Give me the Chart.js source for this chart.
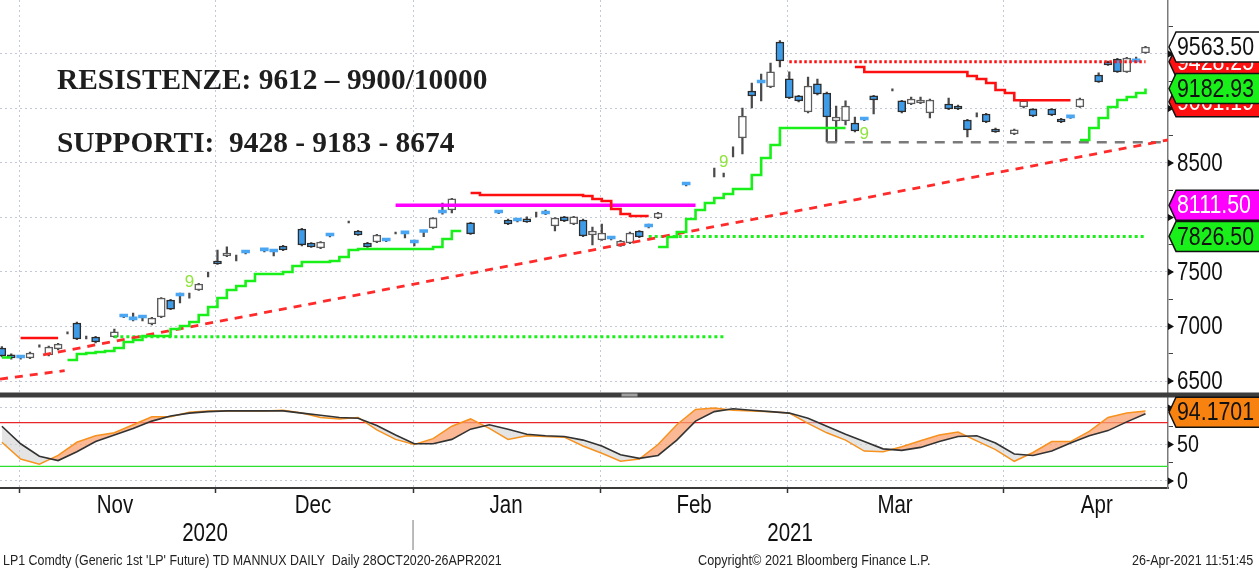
<!DOCTYPE html>
<html>
<head>
<meta charset="utf-8">
<script src="https://cdn.jsdelivr.net/npm/chart.js@4.4.1/dist/chart.umd.min.js"></script>
<style>
  html, body { margin: 0; padding: 0; background: #fff; }
  #wrap { position: relative; width: 1259px; height: 569px; overflow: hidden; }
  canvas { display: block; }
  .note { position: absolute; left: 57px; font: bold 29.4px 'Liberation Serif', 'Times New Roman', serif;
          line-height: 29px; color: #1e1e1e; white-space: pre; }
  .foot { position: absolute; top: 552px; font: 14px 'Liberation Sans', Arial, sans-serif;
          line-height: 16px; color: #222; white-space: pre; }
</style>
</head>
<body>
<div id="wrap">
  <canvas id="chart" width="1259" height="569"></canvas>
  <div class="note" style="top:65px">RESISTENZE: 9612 – 9900/10000</div>
  <div class="note" style="top:128px">SUPPORTI:  9428 - 9183 - 8674</div>
  <div class="foot" data-w="499" style="left:3px;transform-origin:0 50%">LP1 Comdty (Generic 1st 'LP' Future) TD MANNUX DAILY  Daily 28OCT2020-26APR2021</div>
  <div class="foot" data-w="233" style="left:698px;transform-origin:0 50%">Copyright© 2021 Bloomberg Finance L.P.</div>
  <div class="foot" data-w="121" style="right:6px;transform-origin:100% 50%">26-Apr-2021 11:51:45</div>
</div>
<script>
// ─── Axis layout (trading-day index) ──────────────────────────────
const X_MIN = -0.2, X_MAX = 124.4;
const monthEdges = [1.83, 22.84, 43.86, 63.91, 83.86, 106.9];
const monthMids = [12.07, 33.19, 53.78, 73.84, 95.28, 116.8];
const monthLabels = ['Nov', 'Dec', 'Jan', 'Feb', 'Mar', 'Apr'];
const yearMids = [21.67, 84.08];
const yearLabels = ['2020', '2021'];
const yearSplit = 43.86;

// ─── Daily candles (null = no bar that day) ───────────────────────
const open = [
  6803, 6739, 6711, 6711, null, 6739, 6794, null, 7032, null,
  6904, null, 6904, 7087, 7060, 7078, 7023, 7087, 7243, 7280,
  null, 7335, null, 7601, 7647, null, 7674, null, 7693, 7683,
  7738, null, 7894, 7766, 7720, 7830, null, null, 7876, 7766,
  7775, 7784, null, 7849, 7766, 7862, 7904, 8041, 8069, null,
  7950, null, null, 8041, 7977, 7968, 7986, null, 8032, 7922,
  8005, 7940, 7977, 7839, 7794, 7803, 7739, 7766, 7876, 7913,
  7995, null, null, 8298, null, null, null, null, null, 8729,
  9160, 9234, 9197, 9610, 9271, 9115, 8968, 9225, 9142, 8885,
  8885, 8867, 8894, 9115, null, null, 9069, 9041, 9050, 8959,
  null, 9041, 9023, 8894, null, 8949, 8812, null, 8766, 9014,
  8995, null, 8995, 8903, 8913, 9014, null, 9307, 9427, 9454,
  9335, 9427, 9509
];
const close = [
  6729, 6711, 6711, 6757, null, 6812, 6839, null, 6885, null,
  6858, null, 6950, 7087, 7060, 7078, 7078, 7261, 7160, 7280,
  null, 7390, null, 7573, 7674, null, 7674, null, 7693, 7683,
  7702, null, 7748, 7729, 7775, 7830, null, null, 7839, 7729,
  7839, 7784, null, 7849, 7766, 7862, 7995, 8041, 8170, null,
  7849, null, null, 8041, 7940, 7968, 7959, null, 8032, 7995,
  7968, 8005, 7830, 7876, 7858, 7803, 7784, 7858, 7821, 7913,
  8041, null, null, 8298, null, null, null, null, null, 8931,
  9114, 9234, 9335, 9436, 9096, 9069, 9206, 9133, 8922, 8922,
  9023, 8793, 8894, 9078, null, null, 8968, 9087, 9078, 9078,
  null, 8995, 8995, 8803, null, 8876, 8784, null, 8803, 9069,
  8931, null, 8940, 8876, 8913, 9087, null, 9243, 9399, 9335,
  9463, 9427, 9563.5
];
const high = [
  6815, 6750, 6720, 6765, 6832, 6820, 6845, 6950, 7040, 6913,
  6910, null, 6977, 7095, 7124, 7096, 7085, 7265, 7250, 7307,
  7307, 7395, 7500, 7702, 7730, 7656, 7685, null, 7711, 7690,
  7745, null, 7900, 7770, 7780, 7838, null, 7968, 7882, 7772,
  7845, 7790, 7867, 7858, 7793, 7880, 8000, 8133, 8175, null,
  7955, null, null, 8048, 7985, 7975, 8005, 8050, 8069, 8000,
  8010, 8010, 7985, 7913, 7940, 7810, 7790, 7865, 7880, 7940,
  8048, null, null, 8305, null, null, 8454, 8408, 8647, 9004,
  9234, 9316, 9417, 9622, 9335, 9120, 9289, 9270, 9150, 9023,
  9069, 8922, 8900, 9120, null, 9180, 9075, 9105, 9105, 9085,
  null, 9096, 9030, 8900, 8959, 8955, 8821, null, 8812, 9075,
  9000, null, 9000, 8910, 8918, 9095, null, 9326, 9435, 9460,
  9470, 9472, 9570
];
const low = [
  6720, 6700, 6700, 6705, 6810, 6730, 6785, 6931, 6880, 6885,
  6850, null, 6900, 7080, 7050, 7050, 7015, 7080, 7155, 7216,
  7260, 7330, 7454, 7570, 7640, 7601, 7665, null, 7685, 7647,
  7695, null, 7740, 7725, 7715, 7822, null, 7950, 7835, 7725,
  7770, 7778, 7849, 7812, 7738, 7825, 7900, 8030, 8041, null,
  7845, null, null, 8035, 7935, 7960, 7955, 8005, 8025, 7876,
  7962, 7935, 7825, 7748, 7790, 7795, 7735, 7760, 7815, 7905,
  7990, null, null, 8290, null, null, 8371, 8371, 8555, 8582,
  9004, 9069, 9190, 9381, 9090, 9060, 8960, 9125, 8693, 8693,
  8849, 8785, 8888, 8949, null, 9160, 8960, 9035, 9045, 8913,
  null, 8990, 8990, 8738, 8922, 8870, 8780, null, 8760, 9004,
  8925, null, 8935, 8870, 8908, 9010, null, 9240, 9395, 9330,
  9330, 9420, 9505
];

// ─── TD support / resistance steps ────────────────────────────────
const support = [
  6716, 6716, null, null, null, null, null, 6693, 6748, 6757,
  6766, 6775, 6803, 6858, 6876, 6913, 6913, 6913, 6977, 7005,
  7041, 7105, 7179, 7261, 7335, 7372, 7417, 7482, 7482, 7482,
  7500, 7555, 7592, 7592, 7592, 7601, 7638, 7702, 7711, 7711,
  7711, 7711, 7711, 7711, 7711, 7711, 7729, 7803, 7876, 7876,
  null, null, null, null, null, null, null, null, null, null,
  null, null, null, null, null, null, null, null, null, null,
  7729, 7821, 7867, 7986, 8069, 8133, 8179, 8216, 8261, 8261,
  8390, 8546, 8665, 8821, 8821, 8821, 8821, 8821, 8821, 8821,
  8821, null, null, null, null, null, null, null, null, null,
  null, null, null, null, null, null, null, null, null, null,
  null, null, null, null, null, 8711, 8821, 8913, 9014, 9078,
  9105, 9142, 9182.93
];
const resistance = [
  null, null, 6894, 6894, 6894, 6894, 6894, null, null, null,
  null, null, null, null, null, null, null, null, null, null,
  null, null, null, null, null, null, null, null, null, null,
  null, null, null, null, null, null, null, null, null, null,
  null, null, null, null, null, null, null, null, null, null,
  8225, 8206, 8206, 8206, 8206, 8206, 8206, 8206, 8206, 8206,
  8206, 8206, 8197, 8170, 8151, 8078, 8032, 8014, 8014, 8014,
  null, null, null, null, null, null, null, null, null, null,
  null, null, null, null, null, null, null, null, null, null,
  null, 9381, 9335, 9335, 9335, 9335, 9335, 9335, 9335, 9335,
  9335, 9335, 9335, 9298, 9271, 9234, 9170, 9142, 9075, 9075,
  9075, 9075, 9075, 9075, 9075, null, null, null, null, null,
  null, null, null
];

// ─── Drawn levels and trend lines ─────────────────────────────────
const levelVals = [9428.25, 8690, 8111.5, 6906, 7826.5];
const levelFrom = [84, 88, 42, 12, 69];
const levelTo = [122, X_MAX, 74, 77, 122];
const trendFrom = [4.4, -0.2];
const trendTo = [124.4, 6.7];
const trendStart = [6739, 6518];
const trendEnd = [8711, 6595];

// TD count "9" marks
const nineIdx = [20, 77, 92];
const nineVal = [7408, 8509, 8766];

// Right-hand price tags (drawn in this order)
const tagVals = [9428.25, 9563.50, 9061.19, 9182.93, 8111.50, 7826.50];
const oscTag = 94.1701;

// ─── Stochastic panel (every second day) ──────────────────────────
const oscIdx = [
  0, 2, 4, 6, 8, 10, 12, 14, 16, 18, 20, 22, 24, 26, 28, 30, 32, 34, 36, 38,
  40, 42, 44, 46, 48, 50, 52, 54, 56, 58, 60, 62, 64, 66, 68, 70, 72, 74, 76, 78,
  80, 82, 84, 86, 88, 90, 92, 94, 96, 98, 100, 102, 104, 106, 108, 110, 112, 114, 116, 118,
  120, 122
];
const slowD = [
  75, 51, 34, 28, 40, 54, 63, 72, 82, 89, 93, 95, 96, 96, 96, 96, 93, 90, 87, 86,
  76, 63, 51, 51, 57, 71, 77, 71, 64, 62, 61, 56, 48, 36, 31, 35, 56, 82, 95, 99,
  97, 95, 93, 86, 75, 64, 54, 44, 42, 46, 54, 61, 62, 52, 37, 35, 41, 52, 62, 69,
  81, 92
];
const fastK = [
  53, 30, 23, 35, 53, 62, 66, 77, 88, 88, 94, 96, 96, 96, 96, 97, 93, 87, 85, 87,
  70, 57, 50, 58, 75, 85, 72, 57, 62, 61, 60, 48, 38, 27, 30, 50, 77, 98, 100, 97,
  96, 95, 93, 79, 66, 56, 41, 40, 47, 55, 63, 67, 55, 43, 27, 39, 54, 54, 68, 87,
  93, 96
];
const oscBands = [80, 20];
const priceTicks = [6500, 7000, 7500, 8000, 8500, 9000, 9500];
const oscTicks = [0, 50, 100];

// ─── Style tokens ─────────────────────────────────────────────────
const SANS = "'Liberation Sans', Arial, sans-serif";
const SQ = 0.82;               // horizontal squeeze -> narrow face
const GRID = '#c3c9d8';
const CLEAR = 'rgba(0,0,0,0)';
const UP = '#ffffff', DOWN = '#3d9be8', DOJI = '#4aa6f2';

const days = open.map((_, i) => i);
const seg = (x0, x1, v0, v1) => [{ x: x0, y: v0 }, { x: x1, y: v1 }];
const line = (data, color, width, extra) => Object.assign({
  type: 'line', data, borderColor: color, borderWidth: width, pointRadius: 0,
  tension: 0, fill: false, yAxisID: 'y', order: 2
}, extra);

const bodyColor = (c) => {
  const i = c.dataIndex;
  if (i == null || open[i] == null) return DOWN;
  if (open[i] === close[i]) return DOJI;
  return close[i] < open[i] ? DOWN : UP;
};

const datasets = [
  { type: 'bar', data: low.map((l, i) => l == null ? null : [l, high[i]]), backgroundColor: '#4a4a4a',
    barThickness: 1.6, minBarLength: 1, grouped: false, order: 11 },
  { type: 'bar', data: open.map((o, i) => o == null ? null : [o, close[i]]),
    backgroundColor: bodyColor,
    borderColor: (c) => (close[c.dataIndex] < open[c.dataIndex] ? '#2c2c2c' : '#5c5c5c'),
    borderWidth: (c) => (open[c.dataIndex] === close[c.dataIndex] ? 0 : 1.5),
    borderSkipped: false, barThickness: 8, minBarLength: 3, grouped: false, order: 10 },
  line(support, '#19f019', 2.6, { stepped: true }),
  line(resistance, '#ff1010', 2.6, { stepped: true }),
  line(seg(trendFrom[0], trendTo[0], trendStart[0], trendEnd[0]), '#ff2a2a', 2.8, { borderDash: [8, 7] }),
  line(seg(trendFrom[1], trendTo[1], trendStart[1], trendEnd[1]), '#ff2a2a', 2.8, { borderDash: [8, 7] }),
  line(seg(levelFrom[0], levelTo[0], levelVals[0], levelVals[0]), '#ff1010', 3, { borderDash: [2.5, 2.5] }),
  line(seg(levelFrom[1], levelTo[1], levelVals[1], levelVals[1]), '#7a7a7a', 2.5, { borderDash: [10, 8] }),
  line(seg(levelFrom[2], levelTo[2], levelVals[2], levelVals[2]), '#ff00ff', 3.5),
  line(seg(levelFrom[3], levelTo[3], levelVals[3], levelVals[3]), '#19f019', 3, { borderDash: [3, 3] }),
  line(seg(levelFrom[4], levelTo[4], levelVals[4], levelVals[4]), '#19f019', 3, { borderDash: [3, 3] }),
  line(oscIdx.map((x, k) => ({ x, y: slowD[k] })), '#333333', 1.6, { yAxisID: 'y2' }),
  line(oscIdx.map((x, k) => ({ x, y: fastK[k] })), '#f7921e', 1.5, {
    yAxisID: 'y2', fill: { target: 11, above: 'rgba(248,160,112,0.75)', below: 'rgba(205,205,205,0.55)' } }),
  line(seg(X_MIN, X_MAX, oscBands[0], oscBands[0]), '#e8262a', 1.2, { yAxisID: 'y2' }),
  line(seg(X_MIN, X_MAX, oscBands[1], oscBands[1]), '#2ee02e', 1.2, { yAxisID: 'y2' }),
];

// ─── Text helpers (narrow Bloomberg-style face) ───────────────────
function narrowText(ctx, text, px, py, size, color, align) {
  ctx.save();
  ctx.translate(px, py);
  ctx.scale(SQ, 1);
  ctx.font = size + 'px ' + SANS;
  ctx.fillStyle = color;
  ctx.textAlign = align;
  ctx.textBaseline = 'middle';
  ctx.fillText(text, 0, 0);
  ctx.restore();
}

function drawTag(ctx, left, yc, text, fill, ink, right) {
  const h = 30, tip = 7;
  ctx.beginPath();
  ctx.moveTo(left, yc);
  ctx.lineTo(left + tip, yc - h / 2);
  ctx.lineTo(right, yc - h / 2);
  ctx.lineTo(right, yc + h / 2);
  ctx.lineTo(left + tip, yc + h / 2);
  ctx.closePath();
  ctx.fillStyle = fill;
  ctx.fill();
  ctx.lineWidth = 1.5;
  ctx.strokeStyle = '#111';
  ctx.stroke();
  narrowText(ctx, text, left + tip + 1, yc + 1, 26, ink, 'left');
}

// ─── Overlay: labels, panel splitter, axis arrows, price tags ─────
const overlay = {
  id: 'overlay',
  afterDatasetsDraw(chart) {
    const { ctx, scales: { x, y } } = chart;
    ctx.save();
    ctx.fillStyle = '#8fe43c';
    ctx.font = '17px ' + SANS;
    ctx.textAlign = 'center';
    ctx.textBaseline = 'middle';
    nineIdx.forEach((d, k) => ctx.fillText('9', x.getPixelForValue(d), y.getPixelForValue(nineVal[k])));
    ctx.restore();
  },
  afterDraw(chart) {
    const { ctx, scales: { x, y, y2, xYear } } = chart;
    ctx.save();
    // axis text
    priceTicks.forEach(v => narrowText(ctx, String(v), y.left + 9, y.getPixelForValue(v) + 1, 25, '#111', 'left'));
    oscTicks.forEach(v => narrowText(ctx, String(v), y2.left + 9, y2.getPixelForValue(v) + 1, 24, '#111', 'left'));
    monthMids.forEach((v, k) => narrowText(ctx, monthLabels[k], x.getPixelForValue(v), x.top + 18, 25, '#111', 'center'));
    yearMids.forEach((v, k) => narrowText(ctx, yearLabels[k], xYear.getPixelForValue(v), xYear.top + 16, 25, '#111', 'center'));
    // splitter between price and stochastic panels
    ctx.fillStyle = '#3d3d3d';
    ctx.fillRect(0, y.bottom - 3, chart.width, 5);
    ctx.fillStyle = '#a0a0a0';
    ctx.fillRect(chart.width / 2 - 8, y.bottom - 2, 16, 3);
    // year divider
    const sx = xYear.getPixelForValue(yearSplit);
    ctx.strokeStyle = '#777';
    ctx.lineWidth = 1;
    ctx.beginPath();
    ctx.moveTo(sx, xYear.top + 2);
    ctx.lineTo(sx, xYear.bottom + 2);
    ctx.stroke();
    // arrow heads on the major ticks
    ctx.fillStyle = '#111';
    const arrow = (sc, v) => {
      const py = sc.getPixelForValue(v);
      ctx.beginPath();
      ctx.moveTo(sc.left, py - 3.5);
      ctx.lineTo(sc.left + 6, py);
      ctx.lineTo(sc.left, py + 3.5);
      ctx.closePath();
      ctx.fill();
    };
    priceTicks.forEach(v => arrow(y, v));
    oscTicks.forEach(v => arrow(y2, v));
    // price tags
    const styles = [['#ff1010', '#ffffff'], ['#ffffff', '#111111'], ['#ff1010', '#ffffff'],
                    ['#19f019', '#111111'], ['#ff00ff', '#ffffff'], ['#19f019', '#111111']];
    tagVals.forEach((v, k) => drawTag(ctx, y.left + 1, y.getPixelForValue(v), v.toFixed(2),
      styles[k][0], styles[k][1], chart.width + 4));
    drawTag(ctx, y2.left + 1, y2.getPixelForValue(oscTag), oscTag.toFixed(4), '#f7820f', '#111111', chart.width + 4);
    ctx.restore();
  }
};

const edgeOnly = (c) => monthEdges.includes(c.tick && c.tick.value);

new Chart(document.getElementById('chart'), {
  data: { labels: days, datasets },
  options: {
    responsive: false,
    animation: false,
    devicePixelRatio: 1,
    layout: { padding: { left: 0, right: 0, top: 0, bottom: 21 } },
    plugins: { legend: { display: false }, tooltip: { enabled: false } },
    scales: {
      x: {
        type: 'linear', position: 'bottom', min: X_MIN, max: X_MAX, offset: false, weight: 0,
        afterBuildTicks: (s) => { s.ticks = monthEdges.map(v => ({ value: v })); },
        afterFit: (s) => { s.height = 30; },
        ticks: { display: false },
        grid: {
          color: (c) => (edgeOnly(c) ? GRID : CLEAR),
          tickColor: (c) => (edgeOnly(c) ? '#333' : CLEAR),
          tickLength: 5, tickWidth: 1.5, lineWidth: 1, tickBorderDash: [], offset: false
        },
        border: { color: '#3a3a3a', width: 2, dash: [2, 3] }
      },
      xYear: {
        type: 'linear', position: 'bottom', min: X_MIN, max: X_MAX, offset: false, weight: 1,
        afterBuildTicks: (s) => { s.ticks = yearMids.map(v => ({ value: v })); },
        afterFit: (s) => { s.height = 30; },
        ticks: { display: false },
        grid: { display: false, drawTicks: false },
        border: { display: false }
      },
      y: {
        type: 'linear', position: 'right', stack: 'panels', stackWeight: 395.5,
        min: 6367, max: 9995,
        afterBuildTicks: (s) => {
          const t = [];
          for (let v = 6500; v <= 9750; v += 250) t.push({ value: v });
          s.ticks = t;
        },
        afterFit: (s) => { s.width = 91; },
        ticks: { display: false },
        grid: {
          color: (c) => (c.tick && c.tick.value % 500 === 0 ? GRID : CLEAR),
          tickColor: '#444', tickLength: 5, lineWidth: 1, tickBorderDash: []
        },
        border: { color: '#7a7a7a', width: 1.5, dash: [2, 3] }
      },
      y2: {
        type: 'linear', position: 'right', stack: 'panels', stackWeight: 92.5,
        min: -9.6, max: 117.1,
        afterBuildTicks: (s) => { s.ticks = [0, 25, 50, 75, 100].map(v => ({ value: v })); },
        afterFit: (s) => { s.width = 91; },
        ticks: { display: false },
        grid: {
          color: (c) => (c.tick && c.tick.value % 50 === 0 ? GRID : CLEAR),
          tickColor: '#444', tickLength: 5, lineWidth: 1, tickBorderDash: []
        },
        border: { color: '#7a7a7a', width: 1.5, dash: [2, 3] }
      }
    }
  },
  plugins: [overlay]
});

// squeeze the footer lines to the narrow Bloomberg print width
document.querySelectorAll('.foot').forEach((el) => {
  el.style.transform = 'scaleX(' + (Number(el.dataset.w) / el.offsetWidth) + ')';
});
</script>
</body>
</html>
